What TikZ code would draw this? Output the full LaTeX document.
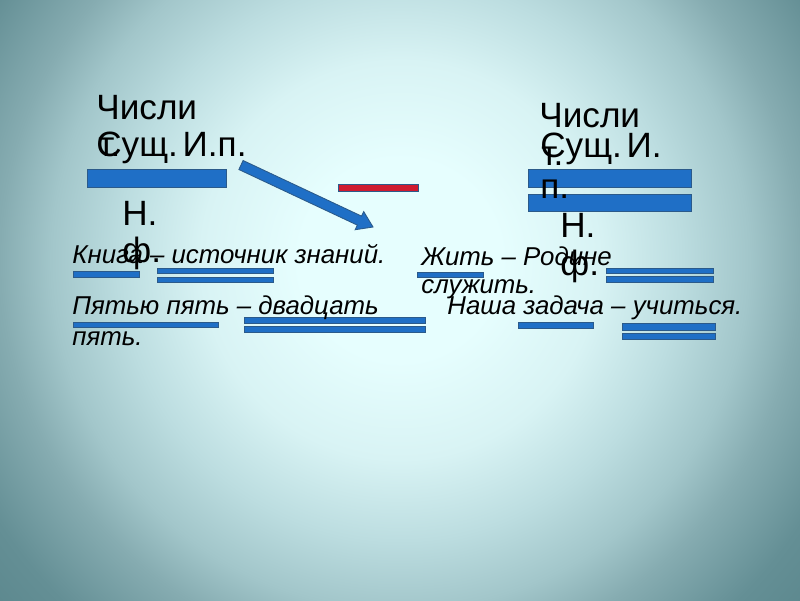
\documentclass[tikz,border=0pt]{standalone}
\usepackage{fontspec}
\setmainfont{Liberation Sans}
\newfontfamily\slidefont[WordSpace=0.15]{Liberation Sans}
\definecolor{bgA}{HTML}{E6FEFE}
\definecolor{bgB}{HTML}{D8F3F4}
\definecolor{bgC}{HTML}{BCDDE0}
\definecolor{bgD}{HTML}{A2C6CA}
\definecolor{bgE}{HTML}{86ACB1}
\definecolor{bgF}{HTML}{648F95}
\definecolor{bgG}{HTML}{5A868C}
\definecolor{barblue}{HTML}{1F6FC6}
\definecolor{barline}{HTML}{2B5A8A}
\definecolor{barred}{HTML}{CF1B30}
% radii in bp: 1px of the slide = 0.567bp
\pgfdeclareradialshading{slidebg}{\pgfpoint{0bp}{0bp}}{color(0bp)=(bgA); color(57bp)=(bgA); color(113bp)=(bgB); color(159bp)=(bgC); color(198bp)=(bgD); color(227bp)=(bgE); color(272bp)=(bgF); color(312bp)=(bgG); color(340bp)=(bgG)}
\begin{document}
\begin{tikzpicture}[x=0.02cm,y=-0.02cm,
  bar/.style={fill=barblue,draw=barline,line width=0.5pt},
  redbar/.style={fill=barred,draw=barline,line width=0.5pt},
  bigtxt/.style={anchor=base west,inner sep=0pt,font=\slidefont\fontsize{20}{24}\selectfont},
  itxt/.style={anchor=base west,inner sep=0pt,font=\fontsize{14.7}{17}\selectfont\itshape}]
  \useasboundingbox (0,0) rectangle (800,600);
  \begin{scope}
    \clip (0,0) rectangle (800,600);
    \node[inner sep=0pt] (bg) at (400,260) {\pgfuseshading{slidebg}};
  \end{scope}

  % schemes
  \foreach \xa/\ya/\xb/\yb in {87/169/226/187, 528/169/691/187, 528/194/691/211,
      73/271/139/277, 157/268/273/273, 157/277/273/282, 417/272/483/277,
      606/268/713/273, 606/276/713/282, 73/322/218/327, 244/317/425/323,
      244/326/425/332, 518/322/593/328, 622/323/715/330, 622/333/715/339}
    \draw[bar] (\xa,\ya) rectangle (\xb,\yb);
  \draw[redbar] (338,184) rectangle (418,191);
  \draw[bar] (243.1,160.5) -- (361.5,216.1) -- (363.7,211.6) -- (373,227)
    -- (355.2,229.7) -- (357.3,225.1) -- (238.9,169.5) -- cycle;

  \node[bigtxt] (numL) at (96,119) {Числи};
  \node[bigtxt] (numLt) at (98,156) {т.};
  \node[bigtxt] (nounL) at (96,156) {Сущ. И.п.};
  \node[bigtxt] (nfL) at (122,225) {Н.};
  \node[bigtxt] (nfLf) at (122,262) {ф.};

  \node[bigtxt] (numR) at (539,127) {Числи};
  \node[bigtxt] (numRt) at (541,165) {т.};
  \node[bigtxt] (nounR) at (540,157) {Сущ. И.};
  \node[bigtxt] (nounRp) at (540,198) {п.};
  \node[bigtxt] (nfR) at (560,237) {Н.};
  \node[bigtxt] (nfRf) at (560,275) {ф.};

  \node[itxt] (sentA) at (72,263) {Книга – источник знаний.};
  \node[itxt] (sentB) at (421,265) {Жить – Родине};
  \node[itxt] (sentBb) at (421,293) {служить.};
  \node[itxt] (sentC) at (72,314) {Пятью пять – двадцать};
  \node[itxt] (sentCb) at (72,345) {пять.};
  \node[itxt] (sentD) at (447,314) {Наша задача – учиться.};
\end{tikzpicture}
\end{document}
